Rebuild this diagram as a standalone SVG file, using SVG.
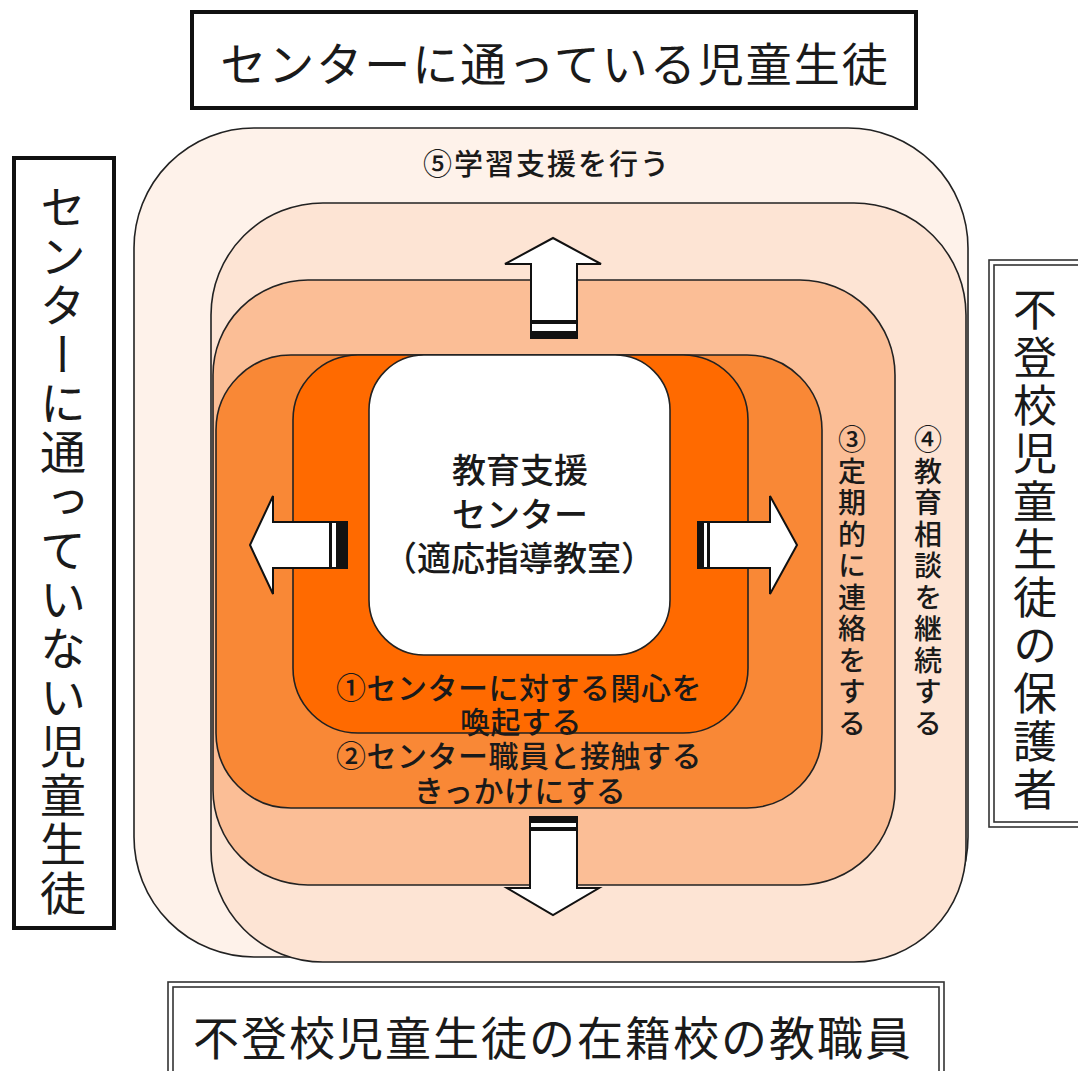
<svg xmlns="http://www.w3.org/2000/svg" width="1078" height="1071" viewBox="0 0 1078 1071">
<style>
text{font-family:"Noto Sans CJK JP","Noto Sans",sans-serif;fill:#1a1a1a;dominant-baseline:central;text-anchor:middle}
.ring{stroke:#222;stroke-width:1.6}
.box{fill:#fff;stroke:#111;stroke-width:4}
.dbl{fill:none;stroke:#333;stroke-width:1.6}
.arr{fill:#fff;stroke:#111;stroke-width:2;stroke-linejoin:miter}
.stripe{fill:#111}
.vt{writing-mode:vertical-rl}
.big{font-size:46px;letter-spacing:2px}
.lab{font-size:30px;font-weight:500;letter-spacing:0.5px}
.ctr{font-size:34px;font-weight:500}
.side{font-size:28px;letter-spacing:3.5px;font-weight:500}
</style>
<rect width="1078" height="1071" fill="#fff"/>

<g id="ring5"><rect class="ring" x="134" y="128" width="834" height="829" rx="120" ry="120" fill="#FEF2EA"/></g>
<g id="ring4"><rect class="ring" x="211" y="203" width="755" height="759" rx="112" ry="112" fill="#FDE4D4"/></g>
<g id="ring3"><rect class="ring" x="213" y="280" width="682" height="605" rx="95" ry="95" fill="#FBBE96"/></g>
<g id="ring2"><rect class="ring" x="216" y="355" width="606" height="453" rx="75" ry="75" fill="#F98836"/></g>
<g id="ring1"><rect class="ring" x="293" y="355" width="455" height="378" rx="65" ry="65" fill="#FF6A00"/></g>
<g id="center"><rect class="ring" x="369" y="355" width="301" height="300" rx="55" ry="55" fill="#fff"/></g>

<g id="connectors">
  <polygon class="arr" points="531,338 531,264 505,264 553,238 601,264 577,264 577,338"/>
  <rect class="stripe" x="531" y="320" width="46" height="4"/>
  <rect class="stripe" x="531" y="331" width="46" height="7"/>

  <polygon class="arr" points="530,817 530,888 507,888 553,915 599,888 577,888 577,817"/>
  <rect class="stripe" x="530" y="817" width="47" height="6"/>
  <rect class="stripe" x="530" y="827" width="47" height="4"/>

  <polygon class="arr" points="347,522 273,522 273,496 250,545 273,594 273,568 347,568"/>
  <rect class="stripe" x="329" y="522" width="3" height="46"/>
  <rect class="stripe" x="336" y="522" width="11" height="46"/>

  <polygon class="arr" points="698,522 770,522 770,496 797,545 770,594 770,568 698,568"/>
  <rect class="stripe" x="698" y="522" width="6" height="46"/>
  <rect class="stripe" x="707" y="522" width="3" height="46"/>
</g>

<g id="top-box">
  <rect class="box" x="192" y="12" width="724" height="96"/>
  <text class="big" x="555" y="61">センターに通っている児童生徒</text>
</g>
<g id="left-box">
  <rect class="box" x="14" y="158" width="100" height="770"/>
  <text class="vt" x="63" y="551" style="font-size:46px;letter-spacing:3px">センターに通っていない児童生徒</text>
</g>
<g id="right-box">
  <rect class="dbl" x="989" y="260" width="110" height="567"/>
  <rect class="dbl" x="994" y="265" width="100" height="557"/>
  <text class="vt" x="1035" y="551" style="font-size:44px;letter-spacing:4px">不登校児童生徒の保護者</text>
</g>
<g id="bottom-box">
  <rect class="dbl" x="168" y="982" width="776" height="110"/>
  <rect class="dbl" x="173" y="987" width="766" height="100"/>
  <text class="big" x="553" y="1035">不登校児童生徒の在籍校の教職員</text>
</g>

<g id="labels">
  <text x="547" y="162" style="font-size:29px;letter-spacing:2px;font-weight:500">⑤学習支援を行う</text>
  <text class="ctr" x="520" y="468">教育支援</text>
  <text class="ctr" x="520" y="512">センター</text>
  <text class="ctr" x="519" y="556">（適応指導教室）</text>
  <text class="lab" x="519" y="686">①センターに対する関心を</text>
  <text class="lab" x="521" y="720">喚起する</text>
  <text class="lab" x="519" y="754">②センター職員と接触する</text>
  <text class="lab" x="520" y="789">きっかけにする</text>
  <text class="vt side" x="852" y="583">③定期的に連絡をする</text>
  <text class="vt side" x="928" y="583">④教育相談を継続する</text>
</g>
</svg>
